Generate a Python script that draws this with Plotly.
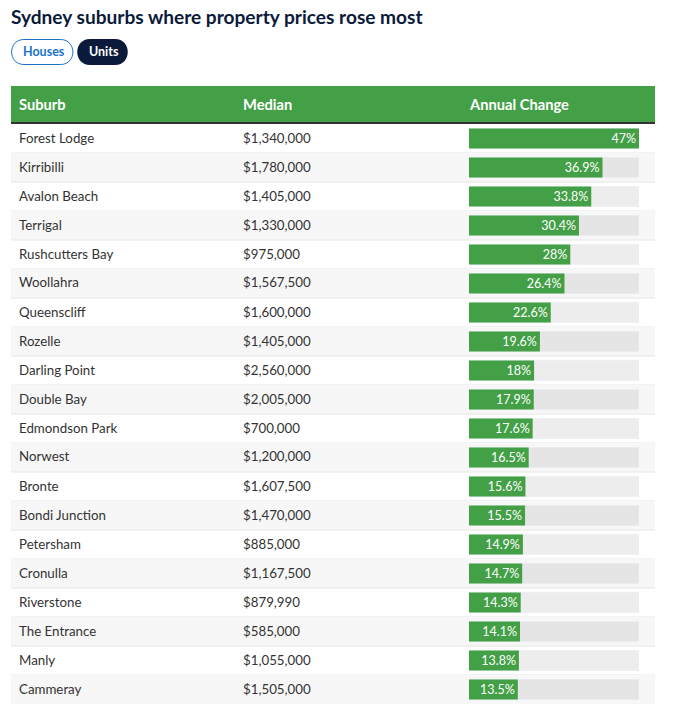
import pandas as pd
import plotly.express as px
import plotly.graph_objects as go

W = 673
H = 714
FONT = "Lato"
GREEN = "#43a047"
NAVY = "#0b1a3b"

rows = [
    ("Forest Lodge", "$1,340,000", 47),
    ("Kirribilli", "$1,780,000", 36.9),
    ("Avalon Beach", "$1,405,000", 33.8),
    ("Terrigal", "$1,330,000", 30.4),
    ("Rushcutters Bay", "$975,000", 28),
    ("Woollahra", "$1,567,500", 26.4),
    ("Queenscliff", "$1,600,000", 22.6),
    ("Rozelle", "$1,405,000", 19.6),
    ("Darling Point", "$2,560,000", 18),
    ("Double Bay", "$2,005,000", 17.9),
    ("Edmondson Park", "$700,000", 17.6),
    ("Norwest", "$1,200,000", 16.5),
    ("Bronte", "$1,607,500", 15.6),
    ("Bondi Junction", "$1,470,000", 15.5),
    ("Petersham", "$885,000", 14.9),
    ("Cronulla", "$1,167,500", 14.7),
    ("Riverstone", "$879,990", 14.3),
    ("The Entrance", "$585,000", 14.1),
    ("Manly", "$1,055,000", 13.8),
    ("Cammeray", "$1,505,000", 13.5),
]


def pill(x0, x1, y0, y1):
    # rounded button outline, pixels turned into paper units
    r = (y1 - y0) / 2
    top = 1 - y0 / H
    bottom = 1 - y1 / H
    return (f"M {(x0 + r) / W} {top} L {(x1 - r) / W} {top} "
            f"C {(x1 + 4) / W} {top} {(x1 + 4) / W} {bottom} {(x1 - r) / W} {bottom} "
            f"L {(x0 + r) / W} {bottom} "
            f"C {(x0 - 4) / W} {bottom} {(x0 - 4) / W} {top} {(x0 + r) / W} {top} Z")


def label(fig, x, y, text, size=13.3, color="#333333", bold=False):
    fig.add_annotation(x=x / W, y=1 - y / H, xref="paper", yref="paper", text=f"<b>{text}</b>" if bold else text,
                       showarrow=False, xanchor="left", yanchor="middle", xshift=-2,
                       font=dict(family=FONT, size=size, color=color))


def main():
    df = pd.DataFrame(rows, columns=["Suburb", "Median", "Change"])
    df["Track"] = 47
    df["Label"] = [f"{c:g}%" for c in df["Change"]]

    fig = px.bar(df, x="Track", y="Suburb", orientation="h")
    fig.update_traces(marker_color="rgba(0,0,0,0.07)", width=20 / 29, hoverinfo="skip", hovertemplate=None)
    fig.add_trace(go.Bar(x=df["Change"], y=df["Suburb"], orientation="h", width=20 / 29, marker_color=GREEN,
                         marker_line_width=0, text=df["Label"], textposition="inside", insidetextanchor="end",
                         textangle=0, constraintext="none",
                         textfont=dict(family=FONT, size=12.5, color="white")))

    fig.update_layout(width=W, height=H, margin=dict(l=0, r=0, t=0, b=0), barmode="overlay", showlegend=False,
                      paper_bgcolor="white", plot_bgcolor="rgba(0,0,0,0)", font_family=FONT)
    fig.update_xaxes(domain=[469 / W, 639 / W], range=[0, 47], visible=False)
    fig.update_yaxes(domain=[1 - 704 / H, 1 - 124 / H], range=[19.5, -0.5], visible=False,
                     categoryorder="array", categoryarray=df["Suburb"].tolist())

    # striped rows and the rule under each row
    for i in range(len(df)):
        if i % 2 == 1:
            fig.add_shape(type="rect", xref="paper", yref="y", x0=11 / W, x1=655 / W, y0=i - 0.5, y1=i + 0.5,
                          fillcolor="#f7f7f7", line_width=0, layer="below")
        if i < len(df) - 1:
            fig.add_shape(type="line", xref="paper", yref="y", x0=11 / W, x1=655 / W, y0=i + 0.5, y1=i + 0.5,
                          line=dict(color="#e6e6e6", width=1), layer="below")
        y = 137.5 + 29 * i
        label(fig, 19, y, df["Suburb"][i])
        label(fig, 243, y, df["Median"][i])

    # header band
    fig.add_shape(type="rect", xref="paper", yref="paper", x0=11 / W, x1=655 / W, y0=1 - 122 / H, y1=1 - 86 / H,
                  fillcolor=GREEN, line_width=0)
    fig.add_shape(type="rect", xref="paper", yref="paper", x0=11 / W, x1=655 / W, y0=1 - 124 / H, y1=1 - 122 / H,
                  fillcolor="#333333", line_width=0)
    label(fig, 19, 104, "Suburb", size=14.7, color="white", bold=True)
    label(fig, 243, 104, "Median", size=14.7, color="white", bold=True)
    label(fig, 469, 104, "Annual Change", size=14.7, color="white", bold=True)

    label(fig, 11, 16.5, "Sydney suburbs where property prices rose most", size=19.1, color=NAVY, bold=True)

    # Houses / Units buttons
    fig.add_shape(type="path", xref="paper", yref="paper", path=pill(11.5, 73, 39.5, 64.5),
                  fillcolor="white", line=dict(color="#1a73c8", width=1))
    fig.add_shape(type="path", xref="paper", yref="paper", path=pill(77, 128, 39, 65),
                  fillcolor=NAVY, line_width=0)
    label(fig, 23, 52, "Houses", size=12.5, color="#1a73c8", bold=True)
    label(fig, 89, 52, "Units", size=12.5, color="white", bold=True)

    fig.write_html("out.html", config=dict(displayModeBar=False), post_script="document.body.style.margin='0';")


if __name__ == "__main__":
    main()
